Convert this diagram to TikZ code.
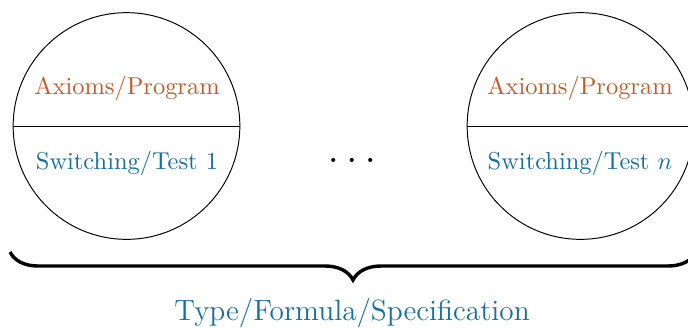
\documentclass[tikz,border=0pt]{standalone}
\usetikzlibrary{decorations.pathreplacing}
\definecolor{axcol}{RGB}{200,88,40}
\definecolor{swcol}{RGB}{22,110,158}
\tikzset{
  half/.style={circle,draw,minimum size=32.6mm,inner sep=0},
  axtext/.style={text=axcol},
  swtext/.style={text=swcol},
}
\begin{document}
\begin{tikzpicture}[x=0.1438mm,y=0.1438mm]
\useasboundingbox (0,0) rectangle (688,327);
\clip (0,0) rectangle (688,327);
% left
\node[half] (L) at (126.5,201) {};
\draw (L.west) -- (L.east);
\node[axtext] (LA) at (127,239) {Axioms/Program};
\node[swtext] (LS) at (127,164) {Switching/Test 1};

\node (dots) at (352,167) {\LARGE$\dots$};

% right
\node[half] (R) at (580.5,201) {};
\draw (R.west) -- (R.east);
\node[axtext] (RA) at (580,239) {Axioms/Program};
\node[swtext] (RS) at (580,164) {Switching/Test $n$};

\coordinate (b1) at (10,75);
\coordinate (b2) at (696,75);
\draw[line width=1.4pt,decorate,decoration={brace,mirror,amplitude=28*0.1438mm}] (b1) -- (b2);
\node[swtext,font=\large] (spec) at (352,14) {Type/Formula/Specification};
\end{tikzpicture}
\end{document}
